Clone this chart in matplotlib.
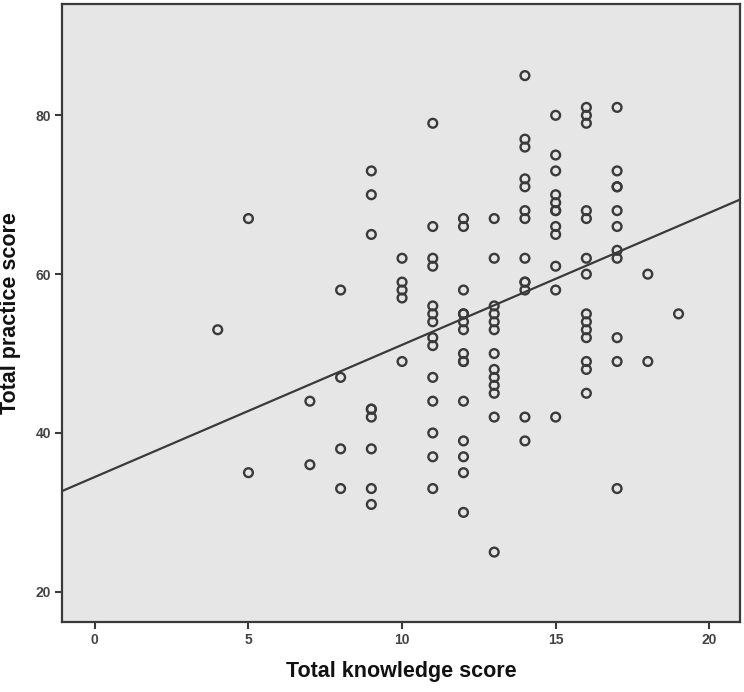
"""
Scatter of total practice score against total knowledge score,
with a least-squares fit line (SPSS-style look).
"""

import numpy as np
import matplotlib
matplotlib.use("Agg")
import matplotlib.pyplot as plt

# knowledge score -> list of practice scores at that knowledge score
knowledge_levels = [4, 5, 7, 8, 9, 10, 11, 12, 13, 14, 15, 16, 17, 18, 19]
practice_by_level = [
    [53],
    [67, 35],
    [44, 36],
    [58, 47, 38, 33],
    [73, 70, 65, 43, 43, 42, 38, 33, 31],
    [62, 59, 58, 57, 49],
    [79, 66, 62, 61, 56, 55, 54, 52, 51, 47, 44, 40, 37, 33],
    [67, 66, 58, 55, 55, 54, 53, 50, 49, 49, 44, 39, 37, 35, 30],
    [67, 62, 56, 55, 54, 53, 50, 48, 47, 46, 45, 42, 25],
    [85, 77, 76, 72, 71, 68, 67, 62, 59, 59, 58, 42, 39],
    [80, 75, 73, 70, 69, 68, 68, 66, 65, 61, 58, 42],
    [81, 80, 79, 68, 67, 62, 60, 55, 54, 53, 52, 49, 48, 45],
    [81, 73, 71, 71, 68, 66, 63, 62, 52, 49, 33],
    [60, 49],
    [55],
]

x_ticks = [0, 5, 10, 15, 20]
y_ticks = [20, 40, 60, 80]

knowledge = np.concatenate([[k] * len(v) for k, v in zip(knowledge_levels, practice_by_level)])
practice = np.concatenate(practice_by_level)

BG = "#e6e6e6"
INK = "#3a3a3a"

fig = plt.figure(figsize=(7.44, 6.92), dpi=100)
ax = fig.add_axes([0.0833, 0.1012, 0.9113, 0.8928])
ax.set_facecolor(BG)

ax.scatter(knowledge, practice, s=40, facecolors="none", edgecolors=INK,
           linewidths=1.7, zorder=3)

# least-squares fit line across the whole plot width
slope, intercept = np.polyfit(knowledge, practice, 1)
xlim = (-1.07, 21.0)
xs = np.array(xlim)
ax.plot(xs, intercept + slope * xs, color=INK, linewidth=1.6, zorder=2)

ax.set_xlim(*xlim)
ax.set_ylim(16.2, 94.0)
ax.set_xticks(x_ticks)
ax.set_yticks(y_ticks)

for side in ["left", "bottom", "top", "right"]:
    ax.spines[side].set_color(INK)
    ax.spines[side].set_linewidth(1.6)
ax.tick_params(direction="out", length=5, width=1.5, color=INK,
               labelsize=10, labelcolor="#444444", pad=3)
for lbl in ax.get_xticklabels() + ax.get_yticklabels():
    lbl.set_fontweight("bold")
    lbl.set_family("Liberation Sans")

ax.set_xlabel("Total knowledge score", fontsize=15.5, fontweight="bold",
              family="Liberation Sans", color="#111111", labelpad=10)
ax.set_ylabel("Total practice score", fontsize=15.5, fontweight="bold",
              family="Liberation Sans", color="#111111", labelpad=10)

plt.savefig("out.png", dpi=100)
plt.close()
